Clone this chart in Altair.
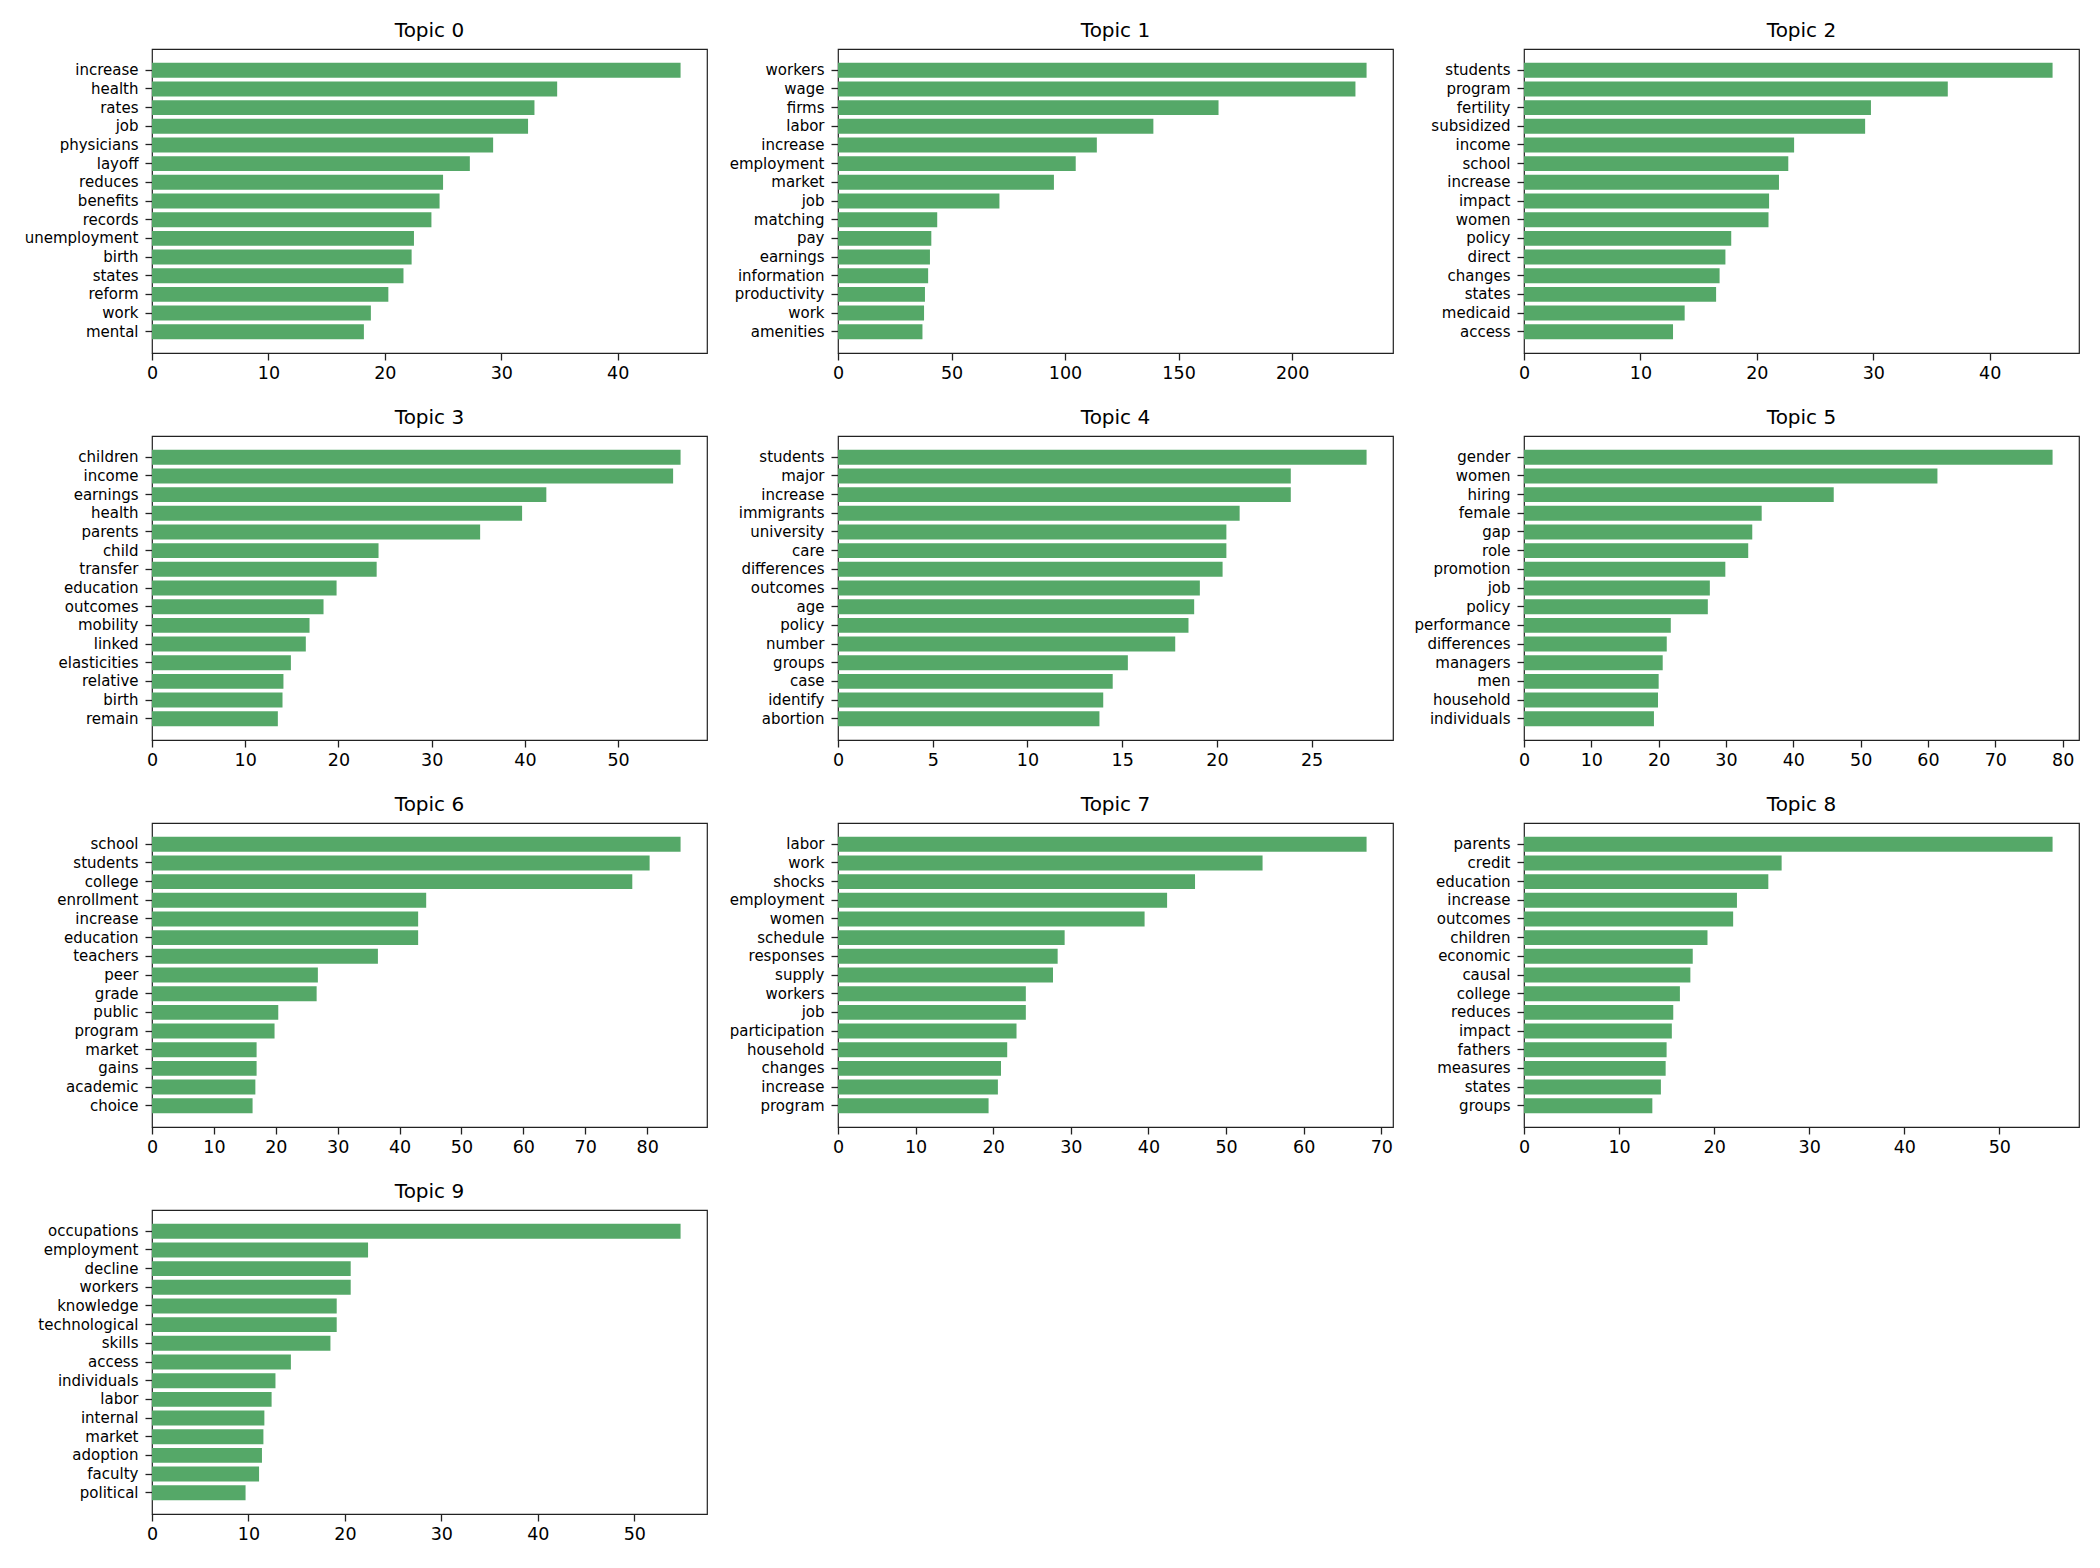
import altair as alt
import pandas as pd

# ---- data ----
T0_WORDS = ["increase", "health", "rates", "job", "physicians", "layoff", "reduces", "benefits",
            "records", "unemployment", "birth", "states", "reform", "work", "mental"]
T0_VALUES = [45.4, 34.8, 32.85, 32.3, 29.3, 27.3, 25.0, 24.7, 24.0, 22.5, 22.3, 21.6, 20.3, 18.8, 18.2]

T1_WORDS = ["workers", "wage", "firms", "labor", "increase", "employment", "market", "job",
            "matching", "pay", "earnings", "information", "productivity", "work", "amenities"]
T1_VALUES = [232.8, 227.9, 167.6, 138.9, 114.0, 104.7, 95.1, 71.1, 43.7, 41.1, 40.5, 39.7, 38.3, 37.9, 37.2]

T2_WORDS = ["students", "program", "fertility", "subsidized", "income", "school", "increase", "impact",
            "women", "policy", "direct", "changes", "states", "medicaid", "access"]
T2_VALUES = [45.4, 36.4, 29.8, 29.3, 23.2, 22.7, 21.9, 21.05, 21.0, 17.8, 17.3, 16.8, 16.5, 13.8, 12.8]

T3_WORDS = ["children", "income", "earnings", "health", "parents", "child", "transfer", "education",
            "outcomes", "mobility", "linked", "elasticities", "relative", "birth", "remain"]
T3_VALUES = [56.7, 55.9, 42.3, 39.7, 35.2, 24.3, 24.1, 19.8, 18.4, 16.9, 16.5, 14.9, 14.1, 14.0, 13.5]

T4_WORDS = ["students", "major", "increase", "immigrants", "university", "care", "differences",
            "outcomes", "age", "policy", "number", "groups", "case", "identify", "abortion"]
T4_VALUES = [27.9, 23.9, 23.9, 21.2, 20.5, 20.5, 20.3, 19.1, 18.8, 18.5, 17.8, 15.3, 14.5, 14.0, 13.8]

T5_WORDS = ["gender", "women", "hiring", "female", "gap", "role", "promotion", "job", "policy",
            "performance", "differences", "managers", "men", "household", "individuals"]
T5_VALUES = [78.5, 61.4, 46.0, 35.3, 33.9, 33.3, 29.9, 27.6, 27.3, 21.8, 21.2, 20.6, 20.0, 19.9, 19.3]

T6_WORDS = ["school", "students", "college", "enrollment", "increase", "education", "teachers",
            "peer", "grade", "public", "program", "market", "gains", "academic", "choice"]
T6_VALUES = [85.4, 80.4, 77.6, 44.3, 43.0, 43.0, 36.5, 26.8, 26.6, 20.4, 19.8, 16.9, 16.9, 16.7, 16.25]

T7_WORDS = ["labor", "work", "shocks", "employment", "women", "schedule", "responses", "supply",
            "workers", "job", "participation", "household", "changes", "increase", "program"]
T7_VALUES = [68.1, 54.7, 46.0, 42.4, 39.5, 29.2, 28.3, 27.7, 24.2, 24.2, 23.0, 21.8, 21.0, 20.6, 19.4]

T8_WORDS = ["parents", "credit", "education", "increase", "outcomes", "children", "economic", "causal",
            "college", "reduces", "impact", "fathers", "measures", "states", "groups"]
T8_VALUES = [55.6, 27.1, 25.7, 22.4, 22.0, 19.3, 17.75, 17.5, 16.4, 15.7, 15.55, 15.0, 14.9, 14.4, 13.5]

T9_WORDS = ["occupations", "employment", "decline", "workers", "knowledge", "technological", "skills",
            "access", "individuals", "labor", "internal", "market", "adoption", "faculty", "political"]
T9_VALUES = [54.8, 22.4, 20.6, 20.6, 19.15, 19.15, 18.5, 14.4, 12.8, 12.4, 11.65, 11.55, 11.4, 11.1, 9.7]

T0_TICKS = [0, 10, 20, 30, 40]
T1_TICKS = [0, 50, 100, 150, 200]
T2_TICKS = [0, 10, 20, 30, 40]
T3_TICKS = [0, 10, 20, 30, 40, 50]
T4_TICKS = [0, 5, 10, 15, 20, 25]
T5_TICKS = [0, 10, 20, 30, 40, 50, 60, 70, 80]
T6_TICKS = [0, 10, 20, 30, 40, 50, 60, 70, 80]
T7_TICKS = [0, 10, 20, 30, 40, 50, 60, 70]
T8_TICKS = [0, 10, 20, 30, 40, 50]
T9_TICKS = [0, 10, 20, 30, 40, 50]

TOPICS = [
    (T0_WORDS, T0_VALUES, T0_TICKS),
    (T1_WORDS, T1_VALUES, T1_TICKS),
    (T2_WORDS, T2_VALUES, T2_TICKS),
    (T3_WORDS, T3_VALUES, T3_TICKS),
    (T4_WORDS, T4_VALUES, T4_TICKS),
    (T5_WORDS, T5_VALUES, T5_TICKS),
    (T6_WORDS, T6_VALUES, T6_TICKS),
    (T7_WORDS, T7_VALUES, T7_TICKS),
    (T8_WORDS, T8_VALUES, T8_TICKS),
    (T9_WORDS, T9_VALUES, T9_TICKS),
]

FONT = "DejaVu Sans"
GREEN = "#55a868"
W, H = 555, 304


def panel(i, words, values, ticks):
    df = pd.DataFrame({"word": words, "value": values})
    xmax = max(values) * 1.05
    return (
        alt.Chart(
            df,
            title=alt.TitleParams(
                f"Topic {i}", fontSize=20, font=FONT, fontWeight="normal", color="black",
                anchor="middle", offset=-8, baseline="alphabetic",
            ),
        )
        .mark_bar(color=GREEN)
        .encode(
            x=alt.X(
                "value:Q",
                scale=alt.Scale(domain=[0, xmax], nice=False, zero=True),
                axis=alt.Axis(
                    values=ticks, title=None, grid=False, domain=False, format="d",
                    labelFontSize=17.5, labelFont=FONT, labelColor="black",
                    tickSize=7, tickWidth=1.3, tickColor="#222", labelPadding=4,
                    labelFlush=False, labelOverlap=False,
                ),
            ),
            y=alt.Y(
                "word:N", sort=None,
                scale=alt.Scale(paddingInner=0.2, paddingOuter=0.74),
                axis=alt.Axis(
                    title=None, grid=False, domain=False,
                    labelFontSize=15, labelFont=FONT, labelColor="black",
                    tickSize=7, tickWidth=1.3, tickColor="#222", labelPadding=7,
                    labelLimit=0, labelOverlap=False,
                ),
            ),
        )
        .properties(width=W, height=H)
    )


panels = [panel(i, *t) for i, t in enumerate(TOPICS)]

chart = (
    alt.concat(*panels, columns=3, spacing=alt.RowColnumber(row=83, column=131), bounds="flush")
    .properties(padding={"left": 15, "top": 12, "right": 5, "bottom": 5})
    .configure(font=FONT)
    .configure_view(stroke="#222", strokeWidth=1.2)
)

chart.save("out.html", embed_options={"renderer": "svg", "actions": False})
